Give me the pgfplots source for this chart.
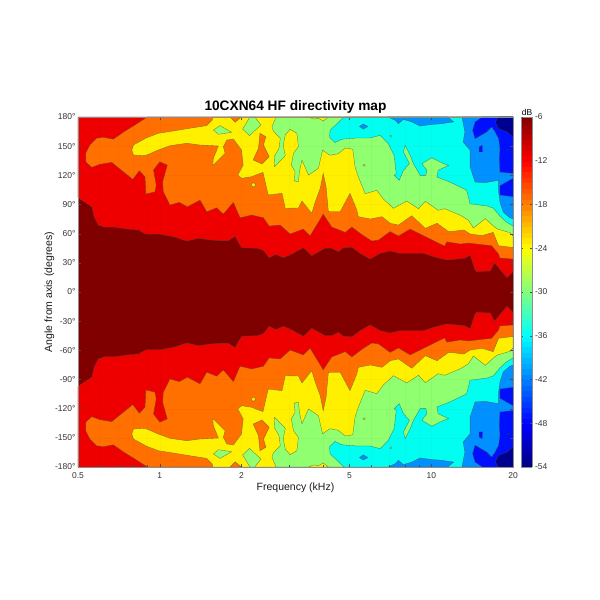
\documentclass[border=0pt]{standalone}
\usepackage{fontspec}
\setmainfont{Liberation Sans}
\usepackage{pgfplots}
\usepackage{pgfplotstable}
\pgfplotsset{compat=1.18}

\definecolor{cdred}{RGB}{128,0,0}
\definecolor{cred}{RGB}{238,0,0}
\definecolor{corange}{RGB}{255,112,0}
\definecolor{cyellow}{RGB}{255,240,0}
\definecolor{cgreen}{RGB}{144,255,112}
\definecolor{ccyan}{RGB}{0,255,240}
\definecolor{cltblue}{RGB}{0,144,255}
\definecolor{cblue}{RGB}{0,16,255}
\definecolor{cdkblue}{RGB}{0,0,144}
\definecolor{cline}{RGB}{70,80,60}

% contour regions for the upper half, mirrored for negative angles
\pgfplotstableread{
f a
0.5 97.0
0.530 92.3
0.563 87.4
0.573 77.5
0.594 68.9
0.629 66.6
0.684 66.6
0.756 64.8
0.834 63.8
0.890 59.4
1.00 59.4
1.122 56.9
1.258 52.5
1.388 55.2
1.532 53.5
1.668 52.8
1.790 52.8
1.895 57.3
2.00 45.6
2.28 45.0
2.40 43.2
2.53 35.3
2.68 38.8
2.85 35.3
3.02 38.1
3.38 45.6
3.63 37.3
4.06 45.0
4.30 45.0
4.55 41.5
4.75 45.6
5.10 46.0
5.47 39.8
5.96 33.9
6.48 39.8
7.06 42.2
7.68 39.8
9.36 39.8
10.2 36.3
11.4 32.9
13.3 34.7
13.9 38.1
14.5 22.6
14.7 20.9
16.5 21.6
17.1 30.1
18.2 20.9
19.0 14.7
20 20.9
20 180
0.5 180
}\redT

\pgfplotstableread{
f a
0.901 180
0.811 171.8
0.734 164.3
0.675 157.1
0.620 159.1
0.586 158.1
0.553 151.2
0.534 142.7
0.534 134.0
0.562 128.3
0.602 131.4
0.666 133.4
0.714 126.5
0.796 115.9
0.841 124.8
0.883 118.6
0.890 100.8
0.961 103.2
0.970 110.1
0.948 125.5
1.00 134.0
1.067 130.6
1.026 113.5
1.031 103.2
1.091 89.5
1.181 92.3
1.264 87.7
1.408 94.6
1.490 82.6
1.623 86.7
1.715 80.2
1.868 92.3
1.977 76.4
2.18 79.2
2.41 76.4
2.53 67.9
2.78 68.9
3.02 59.7
3.38 64.8
3.58 57.9
4.00 80.2
4.30 66.9
4.82 61.4
5.10 66.9
5.55 59.1
6.04 52.5
6.39 53.5
7.06 62.2
7.57 57.6
8.36 64.8
9.10 59.7
10.2 52.8
11.2 47.3
11.4 51.7
12.8 49.4
13.7 50.4
16.7 47.6
17.7 39.1
17.9 35.0
20 33.9
20 180
}\orangeT

\pgfplotstableread{
f a
1.568 180
1.563 176.9
1.490 171.1
1.330 169.0
1.122 165.6
0.988 163.2
0.896 158.7
0.800 151.2
0.789 146.1
0.800 140.9
0.883 140.2
0.988 146.1
1.091 150.5
1.258 153.0
1.408 151.2
1.645 150.2
1.576 137.5
1.568 129.9
1.645 135.8
1.740 142.7
1.715 149.5
1.766 156.3
1.868 157.4
2.00 146.1
2.03 130.6
1.939 120.3
2.00 117.0
2.18 118.6
2.40 123.1
2.51 99.8
2.82 101.5
2.90 86.1
3.24 86.4
3.34 93.6
3.63 80.9
3.74 92.9
3.90 106.7
4.00 122.1
4.10 108.3
4.18 82.6
4.62 82.6
5.02 101.5
5.32 84.3
5.39 77.5
5.96 75.1
6.58 77.5
7.06 70.7
7.57 68.9
8.48 78.5
9.50 65.5
10.5 70.7
11.6 62.0
13.2 63.8
13.9 59.7
15.4 57.9
16.9 61.4
17.7 47.6
20 45.8
20 180
}\yellowT

\pgfplotstableread{
f a
2.68 180
2.59 170.0
2.62 165.6
2.78 158.1
2.75 147.8
2.64 139.2
2.65 128.9
2.90 140.2
2.85 151.2
2.90 161.5
3.02 167.4
3.20 163.2
3.24 149.5
3.11 142.7
3.05 130.6
3.15 123.7
3.13 114.2
3.24 113.5
3.27 123.7
3.34 135.8
3.53 120.3
3.84 127.2
3.98 145.8
4.24 140.6
4.55 142.3
4.82 148.1
5.14 146.8
5.24 128.6
5.39 118.3
5.71 101.1
6.30 104.6
6.67 95.4
7.26 86.1
8.12 93.6
8.97 85.7
9.50 93.3
10.2 87.4
10.6 84.0
11.2 85.7
12.8 78.9
13.7 73.8
14.3 65.8
15.8 75.4
17.4 65.1
19.5 61.0
20 57.6
20 180
}\greenT

\pgfplotstableread{
f a
4.78 180
4.49 173.1
4.24 166.3
4.22 159.4
4.42 153.6
4.68 157.1
5.32 158.4
5.96 158.4
6.48 161.2
6.95 152.5
7.30 140.6
7.43 121.7
7.30 120.0
7.62 114.9
7.90 125.2
8.31 132.0
7.90 144.0
8.01 150.9
8.36 140.6
8.60 132.0
9.10 120.0
9.55 120.0
9.63 125.2
9.23 132.0
10.05 138.1
11.1 132.0
11.6 130.3
10.6 125.2
10.5 118.3
11.7 113.1
12.8 108.0
13.5 104.6
13.9 90.8
16.0 88.5
16.9 86.4
17.9 78.2
18.9 72.0
20 67.9
20 180
}\cyanT

\pgfplotstableread{
f a
12.97 180
13.3 164.6
13.1 154.3
13.9 145.8
13.9 128.6
14.5 113.1
15.8 112.4
17.7 114.9
17.7 102.9
17.9 92.6
18.4 82.3
19.5 76.1
20 75.4
20 180
}\ltblueT

\pgfplotstableread{
f a
15.4 180
14.5 174.9
14.2 166.3
14.5 157.7
16.0 164.6
16.7 169.7
17.2 164.6
17.7 157.7
17.9 147.4
17.8 137.1
17.9 123.4
20 121.9
20 180
}\blueT

\pgfplotstableread{
f a
17.7 180
17.2 174.9
17.7 168.0
19.0 164.6
20 159.4
20 180
}\dkblueT

% islands
\pgfplotstableread{
f a
2.34 163.2
2.46 159.7
2.41 151.2
2.53 139.2
2.38 131.7
2.21 135.8
2.31 147.8
2.33 158.1
}\orangeIa
\pgfplotstableread{
f a
1.816 180
1.895 174.6
2.00 180
}\orangeIb
\pgfplotstableread{
f a
2.21 112.8
2.26 110.1
2.21 108.0
2.17 110.1
}\yellowIa
\pgfplotstableread{
f a
3.53 180
3.68 177.9
3.84 178.7
4.00 175.9
4.18 180
}\yellowIb
\pgfplotstableread{
f a
5.60 130.3
5.66 131.3
5.72 130.3
5.66 129.3
}\yellowIc
\pgfplotstableread{
f a
1.576 166.6
1.668 171.1
1.843 164.3
1.645 162.2
}\greenIa
\pgfplotstableread{
f a
2.02 167.7
2.15 180
2.24 180
2.36 171.8
2.14 160.8
}\greenIb
\pgfplotstableread{
f a
7.05 160.2
7.10 161.2
7.15 160.2
7.10 159.2
}\greenIc
\pgfplotstableread{
f a
6.95 180
7.36 176.6
7.57 173.1
7.90 177.6
8.48 174.9
9.10 170.7
9.91 172.1
10.9 173.1
12.1 174.9
11.5 180
}\ltblueIa
\pgfplotstableread{
f a
5.44 170.4
5.62 172.8
5.84 170.4
5.62 167.4
}\ltblueIb
\pgfplotstableread{
f a
17.9 109.3
20 116.9
20 98.0
17.9 99.8
}\blueIa
\pgfplotstableread{
f a
15.0 149.1
15.4 150.9
15.45 144.0
15.0 144.0
}\blueIb
\pgfplotstableread{
f a
19.05 145.8
19.2 146.8
19.35 145.8
19.2 144.8
}\dkblueIa

\newcommand\region[2]{%
  \addplot[fill=#1,draw=cline,draw opacity=.7,line width=.35pt] table[x=f,y=a]{#2} -- cycle;
  \addplot[fill=#1,draw=cline,draw opacity=.7,line width=.35pt] table[x=f,y expr=-\thisrow{a}]{#2} -- cycle;
}

\begin{document}
\begin{tikzpicture}
\path[use as bounding box] (0,0) rectangle (600pt,600pt);
\begin{axis}[
    at={(78pt,133pt)}, anchor=south west,
    scale only axis, width=435pt, height=350pt,
    xmode=log,
    xmin=0.5, xmax=20, ymin=-180, ymax=180,
    axis on top,
    axis background/.style={fill=cdred},
    xtick={0.5,1,2,5,10,20},
    xticklabels={0.5,1,2,5,10,20},
    minor xtick={0.6,0.7,0.8,0.9,3,4,6,7,8,9},
    log basis x=10,
    ytick={-180,-150,...,180},
    yticklabels={-180°,-150°,-120°,-90°,-60°,-30°,0°,30°,60°,90°,120°,150°,180°},
    tick align=inside,
    major tick length=3pt, minor tick length=1.5pt,
    tick style={black!70,line width=.3pt},
    axis line style={black!45,line width=.4pt},
    xmajorgrids, ymajorgrids, xminorgrids,
    major grid style={black,opacity=.025,line width=.3pt},
    minor grid style={black,opacity=.025,line width=.3pt},
    tick label style={font=\fontsize{8.5}{10}\selectfont,text=black!80},
    xticklabel style={yshift=-2pt},
    yticklabel style={xshift=1pt},
    title={\textbf{10CXN64 HF directivity map}},
    title style={font=\fontsize{13.7}{16}\selectfont,at={(0.5,1)},anchor=south,yshift=-6pt},
    xlabel={Frequency (kHz)},
    ylabel={Angle from axis (degrees)},
    label style={font=\fontsize{10.5}{12}\selectfont,text=black!90},
    xlabel style={yshift=3pt},
    ylabel style={yshift=-6pt},
    colormap/jet,
    point meta min=-54, point meta max=-6,
    colorbar sampled,
    colorbar style={
      samples=65,
      at={(1.0195,1)}, anchor=north west,
      scale only axis, width=11pt, height=350pt,
      ytick={-54,-48,...,-6},
      yticklabels={-54,-48,-42,-36,-30,-24,-18,-12,-6},
      tick align=inside,
      major tick length=2pt,
      ytick pos=both, yticklabel pos=right,
      tick style={black!70,line width=.3pt},
      axis line style={black!45,line width=.4pt},
      tick label style={font=\fontsize{8.5}{10}\selectfont,text=black!80},
      yticklabel style={xshift=-1pt},
      title={dB},
      title style={font=\fontsize{8.5}{10}\selectfont,at={(0.5,1)},anchor=south,yshift=-8pt},
    },
]
\region{cred}{\redT}
\region{corange}{\orangeT}
\region{cyellow}{\yellowT}
\region{corange}{\orangeIa}
\region{corange}{\orangeIb}
\region{cyellow}{\yellowIa}
\region{cgreen}{\greenIa}
\region{cgreen}{\greenIb}
\region{cgreen}{\greenT}
\region{cyellow}{\yellowIb}
\region{cyellow}{\yellowIc}
\region{ccyan}{\cyanT}
\region{cgreen}{\greenIc}
\region{cltblue}{\ltblueIa}
\region{cltblue}{\ltblueIb}
\region{cltblue}{\ltblueT}
\region{cblue}{\blueT}
\region{cblue}{\blueIa}
\region{cblue}{\blueIb}
\region{cdkblue}{\dkblueT}
\region{cdkblue}{\dkblueIa}
\end{axis}
\end{tikzpicture}
\end{document}
